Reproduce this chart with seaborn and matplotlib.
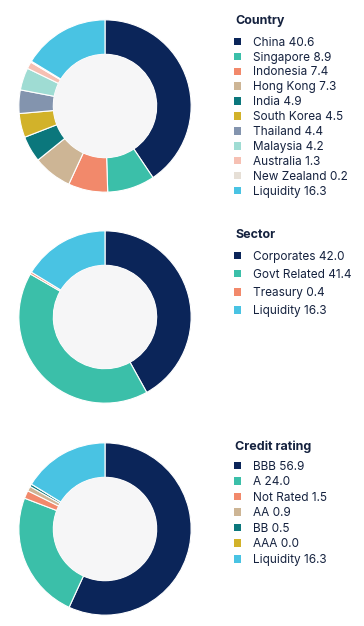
import matplotlib
matplotlib.use("Agg")
import matplotlib.pyplot as plt
from matplotlib.patches import Patch, Circle
import seaborn as sns

sns.set_theme(style="white")
plt.rcParams['font.family'] = ['Inter', 'DejaVu Sans']

# data
country_labels = ['China', 'Singapore', 'Indonesia', 'Hong Kong', 'India', 'South Korea',
                  'Thailand', 'Malaysia', 'Australia', 'New Zealand', 'Liquidity']
country_values = [40.6, 8.9, 7.4, 7.3, 4.9, 4.5, 4.4, 4.2, 1.3, 0.2, 16.3]

sector_labels = ['Corporates', 'Govt Related', 'Treasury', 'Liquidity']
sector_values = [42.0, 41.4, 0.4, 16.3]

rating_labels = ['BBB', 'A', 'Not Rated', 'AA', 'BB', 'AAA', 'Liquidity']
rating_values = [56.9, 24.0, 1.5, 0.9, 0.5, 0.0, 16.3]

country_colors = ['#0b2559', '#3bbfa9', '#f2896b', '#cdb595', '#0b777c', '#d2b22a',
                  '#8394ae', '#9fdcd3', '#f6c0b3', '#e6dfd6', '#49c3e3']
sector_colors = ['#0b2559', '#3bbfa9', '#f2896b', '#49c3e3']
rating_colors = ['#0b2559', '#3bbfa9', '#f2896b', '#cdb595', '#0b777c', '#d2b22a', '#49c3e3']

text_col = '#15223f'
W, H = 364, 626

fig = plt.figure(figsize=(W / 100, H / 100), dpi=100)
fig.patch.set_facecolor('white')


def donut(cy, title, labels, values, colors, title_y, first_y, spacing):
    cx, r = 105, 87
    ax = fig.add_axes([(cx - r) / W, 1 - (cy + r) / H, 2 * r / W, 2 * r / H])
    pal = sns.color_palette(colors)
    ax.pie(values, colors=pal, startangle=90, counterclock=False, radius=1,
           wedgeprops=dict(width=0.4, edgecolor='white', linewidth=0.8))
    ax.add_patch(Circle((0, 0), 0.6, facecolor='#f6f6f7', edgecolor='none'))
    ax.set_xlim(-1.01, 1.01)
    ax.set_ylim(-1.01, 1.01)
    ax.set_aspect('equal')
    ax.axis('off')

    fig.text(235 / W, 1 - title_y / H, title, fontsize=9, fontweight='bold',
             color=text_col, ha='left', va='center')

    handles = [Patch(facecolor=c, edgecolor='none') for c in pal]
    texts = [f'{l} {v:.1f}' for l, v in zip(labels, values)]
    leg = ax.legend(handles, texts, loc='upper left',
                    bbox_to_anchor=(234 / W, 1 - (first_y - 5.3) / H),
                    bbox_transform=fig.transFigure, frameon=False,
                    fontsize=8.5, handlelength=0.6, handleheight=0.6,
                    handletextpad=1.0, labelspacing=spacing,
                    borderpad=0, borderaxespad=0)
    for t in leg.get_texts():
        t.set_color(text_col)


donut(106, 'Country', country_labels, country_values, country_colors, 21, 42, 0.245)
donut(317, 'Sector', sector_labels, sector_values, sector_colors, 235, 256, 0.525)
donut(529, 'Credit rating', rating_labels, rating_values, rating_colors, 447, 466, 0.30)

fig.savefig('out.png', dpi=100)
